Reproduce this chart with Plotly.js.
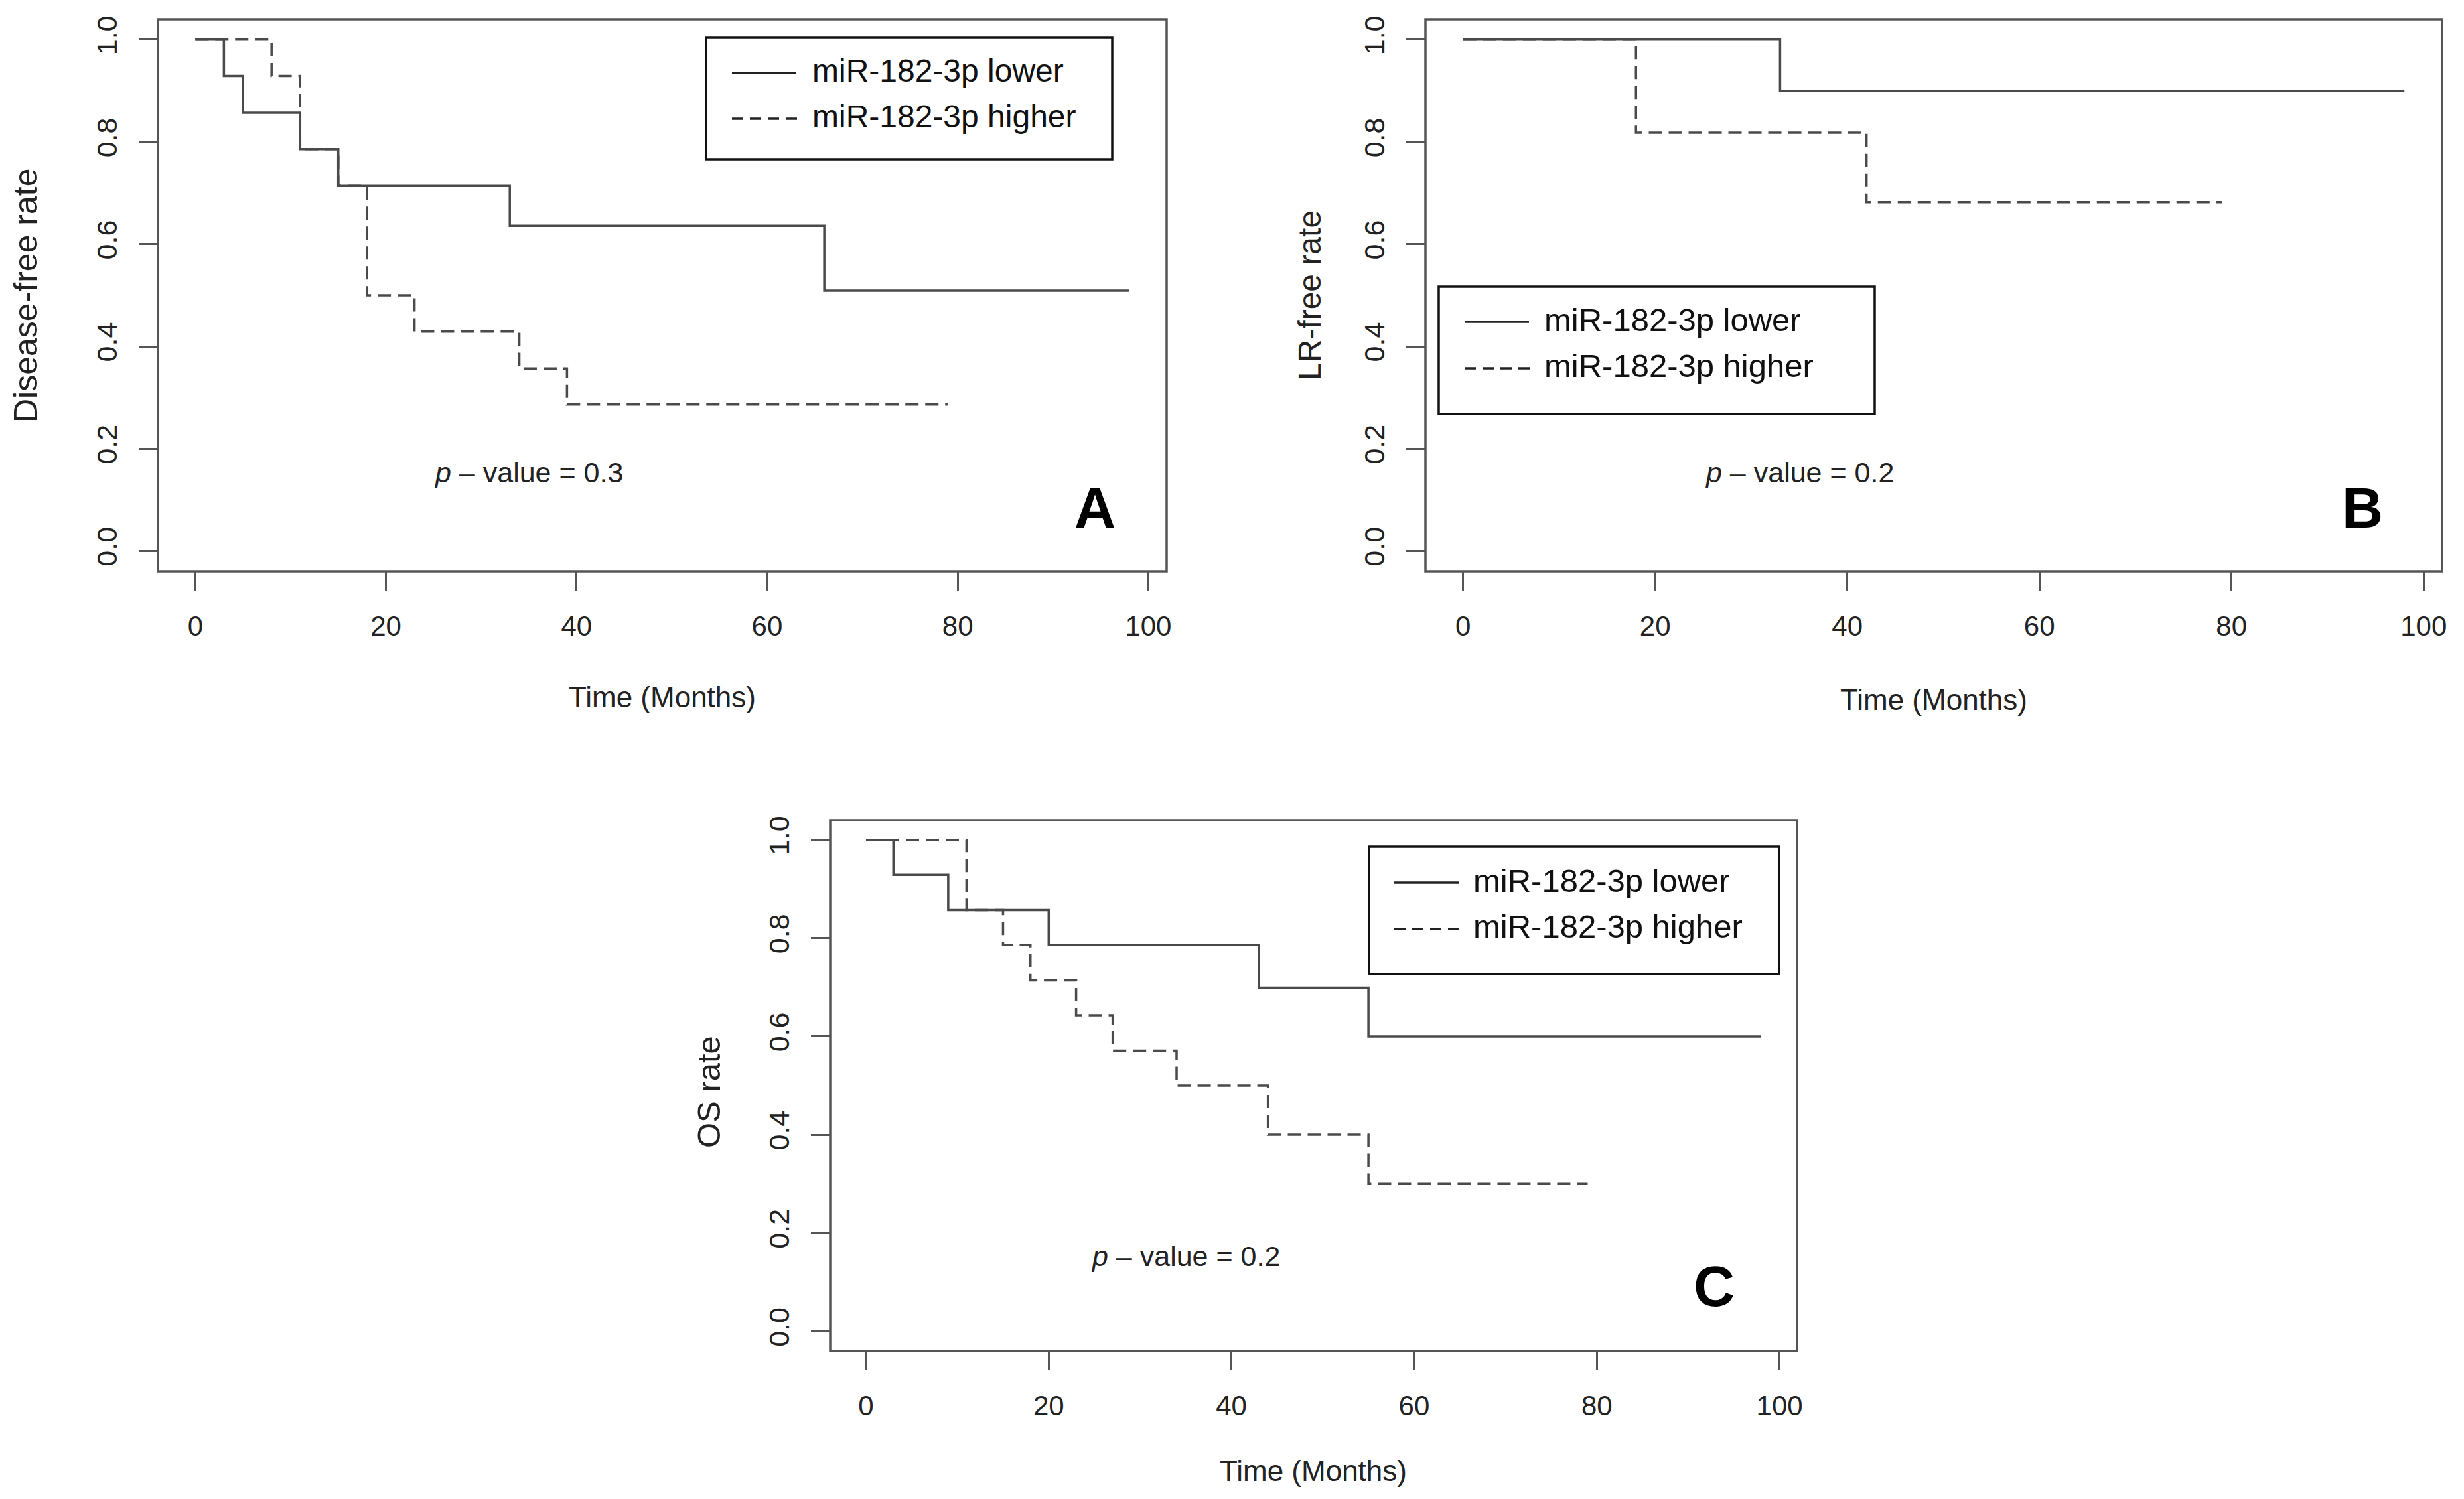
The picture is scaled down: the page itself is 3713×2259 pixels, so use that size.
<!DOCTYPE html>
<html>
<head>
<meta charset="utf-8">
<script src="https://cdn.plot.ly/plotly-3.0.1.min.js"></script>
<style>html,body{margin:0;padding:0;background:#fff;}#chart{width:3713px;height:2259px;}</style>
</head>
<body>
<div id="chart"></div>
<script>
// ---------- data ----------
var seriesNames = ["miR-182-3p lower", "miR-182-3p higher"];
var xTicks = [0, 20, 40, 60, 80, 100];
var yTicks = [0, 0.2, 0.4, 0.6, 0.8, 1.0];
var yTickLabels = ["0.0", "0.2", "0.4", "0.6", "0.8", "1.0"];

// Panel A: disease-free rate
var A_lowerTime  = [0, 3, 5, 11, 15, 33, 66, 98];
var A_lowerSurv  = [1, 0.929, 0.857, 0.786, 0.714, 0.636, 0.509, 0.509];
var A_higherTime = [0, 8, 11, 15, 18, 23, 34, 39, 79];
var A_higherSurv = [1, 0.929, 0.786, 0.714, 0.5, 0.429, 0.357, 0.286, 0.286];

// Panel B: LR-free rate
var B_lowerTime  = [0, 33, 98];
var B_lowerSurv  = [1, 0.9, 0.9];
var B_higherTime = [0, 18, 42, 79];
var B_higherSurv = [1, 0.818, 0.682, 0.682];

// Panel C: OS rate
var C_lowerTime  = [0, 3, 9, 20, 43, 55, 98];
var C_lowerSurv  = [1, 0.929, 0.857, 0.786, 0.699, 0.6, 0.6];
var C_higherTime = [0, 11, 15, 18, 23, 27, 34, 44, 55, 79];
var C_higherSurv = [1, 0.857, 0.786, 0.714, 0.643, 0.571, 0.5, 0.4, 0.3, 0.3];

var panelLetters = ["A", "B", "C"];
var yTitles = ["Disease-free rate", "LR-free rate", "OS rate"];
var xTitle = "Time (Months)";
var pValues = ["0.3", "0.2", "0.2"];

// ---------- styling ----------
var W = 3713, H = 2259;
function px(x){ return x / W; }
function py(y){ return 1 - y / H; }
var FONT = "Liberation Sans, Arial, Helvetica, sans-serif";
var LINE_COL = "#4a4a4a";
var FRAME_COL = "#555555";
var DASH = "20px,10px";

var xs = ["x", "x2", "x3"], ys = ["y", "y2", "y3"];
var data = [
  [A_lowerTime, A_lowerSurv, A_higherTime, A_higherSurv],
  [B_lowerTime, B_lowerSurv, B_higherTime, B_higherSurv],
  [C_lowerTime, C_lowerSurv, C_higherTime, C_higherSurv]
];

var traces = [];
data.forEach(function(d, i){
  traces.push({x: d[0], y: d[1], xaxis: xs[i], yaxis: ys[i], type: "scatter", mode: "lines",
    name: seriesNames[0], line: {shape: "hv", color: LINE_COL, width: 3.5}, hoverinfo: "skip"});
  traces.push({x: d[2], y: d[3], xaxis: xs[i], yaxis: ys[i], type: "scatter", mode: "lines",
    name: seriesNames[1], line: {shape: "hv", color: LINE_COL, width: 3.5, dash: DASH}, hoverinfo: "skip"});
});

// plot regions in pixels [left, right, top, bottom]
var boxes = [
  [238, 1758, 29, 861],
  [2148, 3680, 29, 861],
  [1251, 2708, 1236, 2036]
];

function xaxisDef(b, anchor){
  return {domain: [px(b[0]), px(b[1])], range: [-3.92, 101.92], anchor: anchor,
    tickvals: xTicks, ticks: "outside", ticklen: 28, tickwidth: 3, tickcolor: FRAME_COL,
    showgrid: false, zeroline: false, showline: false, ticklabelstandoff: 18,
    tickfont: {family: FONT, size: 42, color: "#222"}};
}
function yaxisDef(b, anchor){
  return {domain: [py(b[3]), py(b[2])], range: [-0.04, 1.04], anchor: anchor,
    tickvals: yTicks, ticktext: yTickLabels, tickangle: -90, ticks: "outside", ticklen: 28,
    tickwidth: 3, tickcolor: FRAME_COL, showgrid: false, zeroline: false, showline: false,
    ticklabelstandoff: 16, tickfont: {family: FONT, size: 43, color: "#222"}};
}

var layout = {
  width: W, height: H, margin: {l: 0, r: 0, t: 0, b: 0},
  paper_bgcolor: "#ffffff", plot_bgcolor: "#ffffff", showlegend: false,
  xaxis: xaxisDef(boxes[0], "y"), yaxis: yaxisDef(boxes[0], "x"),
  xaxis2: xaxisDef(boxes[1], "y2"), yaxis2: yaxisDef(boxes[1], "x2"),
  xaxis3: xaxisDef(boxes[2], "y3"), yaxis3: yaxisDef(boxes[2], "x3"),
  shapes: [], annotations: []
};

// frames
for (var i = 0; i < 3; i++){
  layout.shapes.push({type: "rect", xref: xs[i] + " domain", yref: ys[i] + " domain",
    x0: 0, x1: 1, y0: 0, y1: 1, line: {color: FRAME_COL, width: 3.5}});
}

// legends: [boxL, boxR, boxT, boxB, sampleL, sampleR, textL, row1Y, row2Y, fontSize]
var legends = [
  [1064, 1676, 57, 240, 1103, 1200, 1222, 107, 175, 48],
  [2168, 2825, 432, 624, 2207, 2304, 2325, 482, 551, 49],
  [2063, 2681, 1276, 1468, 2101, 2198, 2218, 1327, 1396, 49]
];
legends.forEach(function(g){
  layout.shapes.push({type: "rect", xref: "paper", yref: "paper",
    x0: px(g[0]), x1: px(g[1]), y0: py(g[3]), y1: py(g[2]), line: {color: "#111", width: 3.5}});
  layout.shapes.push({type: "line", xref: "paper", yref: "paper",
    x0: px(g[4]), x1: px(g[5]), y0: py(g[7] + 3), y1: py(g[7] + 3), line: {color: "#222", width: 3.5}});
  layout.shapes.push({type: "line", xref: "paper", yref: "paper",
    x0: px(g[4]), x1: px(g[5] + 3), y0: py(g[8] + 4), y1: py(g[8] + 4), line: {color: "#222", width: 3.5, dash: "17px,10px"}});
  [g[7], g[8]].forEach(function(yy, k){
    layout.annotations.push({xref: "paper", yref: "paper", x: px(g[6]), y: py(yy),
      xanchor: "left", yanchor: "middle", showarrow: false, text: seriesNames[k],
      font: {family: FONT, size: g[9], color: "#111"}});
  });
});

// panel letters (pixel centres), p-values and axis titles
var letterPos = [[1650, 765], [3560, 765], [2583, 1938]];
var xTitleY = [1050, 1054, 2216];
var yTitleX = [39, 1973, 1068];
var yTitleYShift = [0, 0, 10];
var yTitleSize = [50, 48, 49];
for (var i = 0; i < 3; i++){
  var b = boxes[i];
  layout.annotations.push({xref: "paper", yref: "paper", x: px(letterPos[i][0]), y: py(letterPos[i][1]),
    xanchor: "center", yanchor: "middle", showarrow: false, text: "<b>" + panelLetters[i] + "</b>",
    font: {family: FONT, size: 86, color: "#000"}});
  layout.annotations.push({xref: xs[i], yref: ys[i], x: 35, y: 0.153,
    xanchor: "center", yanchor: "middle", showarrow: false,
    text: "<i>p</i> \u2013 value = " + pValues[i], font: {family: FONT, size: 43, color: "#222"}});
  layout.annotations.push({xref: "paper", yref: "paper", x: px((b[0] + b[1]) / 2), y: py(xTitleY[i]),
    xanchor: "center", yanchor: "middle", showarrow: false, text: xTitle,
    font: {family: FONT, size: 44, color: "#222"}});
  layout.annotations.push({xref: "paper", yref: "paper", x: px(yTitleX[i]), y: py((b[2] + b[3]) / 2 + yTitleYShift[i]),
    xanchor: "center", yanchor: "middle", showarrow: false, text: yTitles[i], textangle: -90,
    font: {family: FONT, size: yTitleSize[i], color: "#222"}});
}

Plotly.newPlot("chart", traces, layout, {staticPlot: true, displayModeBar: false});
</script>
</body>
</html>
